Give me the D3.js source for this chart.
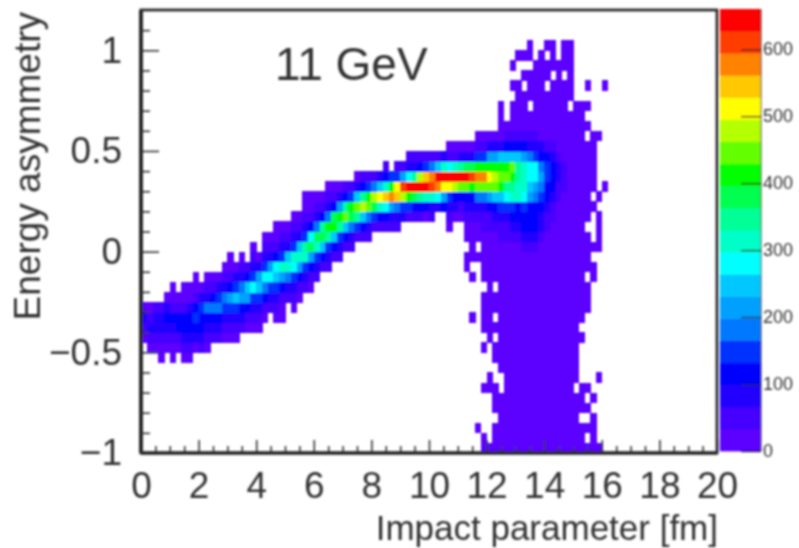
<!DOCTYPE html>
<html>
<head>
<meta charset="utf-8">
<style>
    body { margin: 0; background: #fff; }
    text { font-family: "Liberation Sans", Arial, sans-serif; fill: #333; }
</style>
<script src="https://cdn.jsdelivr.net/npm/d3@7"></script>
</head>
<body>
<svg></svg>
<script>
const width = 799
const height = 548

const title = "11 GeV"
const xTitle = "Impact parameter [fm]"
const yTitle = "Energy asymmetry"
const xTicks = [0, 2, 4, 6, 8, 10, 12, 14, 16, 18, 20]
const xMinorTicks = [0.5, 1, 1.5, 2.5, 3, 3.5, 4.5, 5, 5.5, 6.5, 7, 7.5, 8.5, 9, 9.5, 10.5, 11, 11.5, 12.5, 13, 13.5, 14.5, 15, 15.5, 16.5, 17, 17.5, 18.5, 19, 19.5]
const yTicks = [-1, -0.5, 0, 0.5, 1]
const yTickLabels = ["\u22121", "\u22120.5", "0", "0.5", "1"]
const yMinorTicks = [-0.9, -0.8, -0.7, -0.6, -0.4, -0.3, -0.2, -0.1, 0.1, 0.2, 0.3, 0.4, 0.6, 0.7, 0.8, 0.9, 1.1]
const zTicks = [0, 100, 200, 300, 400, 500, 600]

const binWidth = 0.2
const binHeight = 0.05
const bandSize = 33

const bandColors = ["#5c00ff", "#4400ff", "#2400ff", "#0000ff", "#0032ff", "#0078ff", "#00a0ff", "#00c8ff",
    "#00ffff", "#00ffc8", "#00ff96", "#00ff50", "#00ff00", "#64ff00", "#b4ff00", "#ffff00",
    "#ffc800", "#ff8200", "#ff3c00", "#ff0000"]

// ridge: first row of each column, then the colour band of each row going up (base 36 digit)
const coreStart = [11, 10, 10, 9, 10, 9, 10, 9, 9, 10,
    10, 10, 11, 11, 11, 11, 11, 12, 12, 12,
    12, 13, 14, 13, 13, 15, 14, 15, 16, 16,
    17, 18, 18, 19, 19, 20, 20, 21, 21, 21,
    22, 22, 22, 22, 22, 23, 23, 23, 23, 23,
    23, 24, 24, 22, 23, 23, 21, 23, 23, 22,
    22, 22, 21, 21, 21, 21, 20, 20, 20, 21,
    22, 23, 25, 26]
const coreBands = ["0120", "01210", "01221", "001221", "012320", "00123100", "013310", "01233100", "01233200", "02343100",
    "1233420", "01235210", "1235310", "1235420", "01245210", "012463100", "01247420", "12365210", "0136731", "012484210",
    "01247620", "013584210", "12486210", "0124783100", "0013694210", "12597210", "0124894210", "013697210", "1249a42100", "0136b83100",
    "1249b5210", "137ba310", "124ac5210", "137cb310", "124ac620", "137da31", "125bc41", "14ad720", "137ea31", "125dc41",
    "14be51", "139f72", "138g931", "126hc4", "125gf41", "24ei61", "14cj821", "13bja21", "13aje31", "039jg41",
    "129ih51", "28hj71", "36fj92", "0124fj810", "023ej910", "013dja20", "00123djb20", "123cib20", "125dhc41", "1125dhc41",
    "1136dfc62", "1237dec62", "11247cdc72", "11248adc731", "12349acd731", "123399aa731", "123348999631", "123336788521", "123335688421", "1223456532",
    "112334431", "11233321", "11221", "111"]

// plume: filled column ranges of each row, bottom row first, all in the lowest band
const plumeSpans = [
    [[59, 79]],
    [[59, 59], [61, 76], [78, 78]],
    [[58, 58], [61, 78]],
    [[62, 75], [78, 78]],
    [[61, 77]],
    [[61, 76], [78, 78]],
    [[59, 61], [63, 74], [76, 77]],
    [[60, 60], [63, 75], [79, 79]],
    [[62, 75]],
    [[61, 75]],
    [[59, 59], [61, 75]],
    [[60, 60], [62, 76]],
    [[59, 75]],
    [[57, 57], [59, 60], [62, 76]],
    [[59, 77]],
    [[59, 77]],
    [[60, 60], [62, 77]],
    [[57, 57], [59, 76], [78, 78]],
    [[56, 56], [59, 78]],
    [[56, 77]],
    [[57, 57], [59, 79]],
    [[56, 77], [79, 79]],
    [[53, 53], [56, 76], [79, 79]],
    [[53, 77], [79, 79]],
    [[53, 78]],
    [[53, 77], [79, 79]],
    [[53, 78], [80, 80]],
    [[53, 78]],
    [[53, 78]],
    [[53, 78]],
    [[53, 78]],
    [[58, 76], [78, 79]],
    [[62, 77]],
    [[62, 62], [64, 76]],
    [[62, 62], [64, 66], [68, 73], [75, 77]],
    [[65, 74]],
    [[64, 65], [67, 69], [71, 74], [77, 77], [80, 80]],
    [[66, 70], [72, 72], [74, 74]],
    [[64, 64], [68, 74]],
    [[65, 67], [69, 69], [71, 71], [73, 74]],
    [[67, 67], [70, 71], [73, 74]]
]

const svg = d3.select("svg")
    .attr("width", width)
    .attr("height", height)
    .style("display", "block")

svg.append("filter")
    .attr("id", "soft")
    .attr("filterUnits", "userSpaceOnUse")
    .attr("x", 0).attr("y", 0)
    .attr("width", width).attr("height", height)
    .append("feGaussianBlur")
    .attr("stdDeviation", 1)

const root = svg.append("g").attr("filter", "url(#soft)")

const x = d3.scaleLinear().domain([0, 20]).range([141, 717])
const y = d3.scaleLinear().domain([-1, 1.2]).range([453, 10])
const z = d3.scaleLinear().domain([0, 660]).range([451, 9])
const kleur = d3.scaleQuantize().domain([0, 660]).range(bandColors)

const cells = maakCellen()

root.append("g")
    .attr("shape-rendering", "crispEdges")
    .selectAll("rect")
    .data(cells)
    .enter()
    .append("rect")
    .attr("x", d => x(d.col * binWidth))
    .attr("y", d => y(-1 + (d.row + 1) * binHeight))
    .attr("width", x(binWidth) - x(0) + 0.6)
    .attr("height", y(-1) - y(-1 + binHeight) + 0.6)
    .attr("fill", d => kleur(d.count))

tekenAssen()
tekenKleurenbalk()
tekenTeksten()

function maakCellen() {
    const lijst = new Map()
    plumeSpans.forEach((spans, row) => {
        spans.forEach(span => {
            for (let col = span[0]; col <= span[1]; col++) {
                lijst.set(col + "_" + row, { col, row, count: bandSize / 2 })
            }
        })
    })
    // ridge goes on top of the plume
    coreBands.forEach((bands, col) => {
        bands.split("").forEach((c, k) => {
            const row = coreStart[col] + k
            lijst.set(col + "_" + row, { col, row, count: (parseInt(c, 36) + 0.5) * bandSize })
        })
    })
    return [...lijst.values()]
}

function tekenAssen() {
    const xMajor = d3.axisBottom(x).tickValues(xTicks).tickSize(-13).tickPadding(19).tickFormat(d3.format("d"))
    const xMinor = d3.axisBottom(x).tickValues(xMinorTicks).tickSize(-7).tickFormat("")
    const yMajor = d3.axisLeft(y).tickValues(yTicks).tickSize(-18).tickPadding(19).tickFormat((d, i) => yTickLabels[i])
    const yMinor = d3.axisLeft(y).tickValues(yMinorTicks).tickSize(-9).tickFormat("")

    const xAs = root.append("g").attr("transform", "translate(0,453)")
    xAs.append("g").call(xMajor)
    xAs.append("g").call(xMinor)
    const yAs = root.append("g").attr("transform", "translate(141,0)")
    yAs.append("g").call(yMajor)
    yAs.append("g").call(yMinor)

    root.selectAll(".domain").remove()
    root.selectAll(".tick line").attr("stroke", "#333").attr("stroke-width", 1.6)
    root.selectAll(".tick text").attr("font-size", 37).attr("font-family", "Liberation Sans").attr("fill", "#333")

    // frame
    root.append("rect")
        .attr("x", x(0)).attr("y", y(1.2))
        .attr("width", x(20) - x(0)).attr("height", y(-1) - y(1.2))
        .attr("fill", "none").attr("stroke", "#2a2a2a").attr("stroke-width", 2.8)
    root.append("line")
        .attr("x1", x(0)).attr("x2", x(0))
        .attr("y1", y(1.2)).attr("y2", y(-1))
        .attr("stroke", "#2a2a2a").attr("stroke-width", 4)
    root.append("line")
        .attr("x1", x(0)).attr("x2", x(20))
        .attr("y1", y(-1)).attr("y2", y(-1))
        .attr("stroke", "#2a2a2a").attr("stroke-width", 3.6)
}

function tekenKleurenbalk() {
    const balkX = 720
    const balkW = 41
    const balk = root.append("g")

    balk.selectAll("rect")
        .data(bandColors)
        .enter()
        .append("rect")
        .attr("x", balkX)
        .attr("y", (d, i) => z((i + 1) * bandSize))
        .attr("width", balkW)
        .attr("height", z(0) - z(bandSize) + 0.4)
        .attr("fill", d => d)

    const zAs = d3.axisRight(z).tickValues(zTicks).tickSize(-20).tickPadding(2)
    const asGroep = root.append("g")
        .attr("transform", `translate(${balkX + balkW},0)`)
        .call(zAs)
    asGroep.select(".domain").remove()
    asGroep.selectAll(".tick line").attr("stroke", "#222").attr("stroke-width", 1.4)
    asGroep.selectAll(".tick text").attr("font-size", 18).attr("font-family", "Liberation Sans").attr("fill", "#555")

    balk.append("line")
        .attr("x1", balkX + balkW).attr("x2", balkX + balkW)
        .attr("y1", z(660)).attr("y2", z(0))
        .attr("stroke", "#444").attr("stroke-width", 1)
}

function tekenTeksten() {
    root.append("text")
        .attr("x", 275).attr("y", 80)
        .attr("font-size", 46)
        .text(title)
    root.append("text")
        .attr("x", 718).attr("y", 540)
        .attr("text-anchor", "end")
        .attr("font-size", 35)
        .text(xTitle)
    root.append("text")
        .attr("transform", "translate(40,12) rotate(-90)")
        .attr("text-anchor", "end")
        .attr("font-size", 37)
        .text(yTitle)
}
</script>
</body>
</html>
